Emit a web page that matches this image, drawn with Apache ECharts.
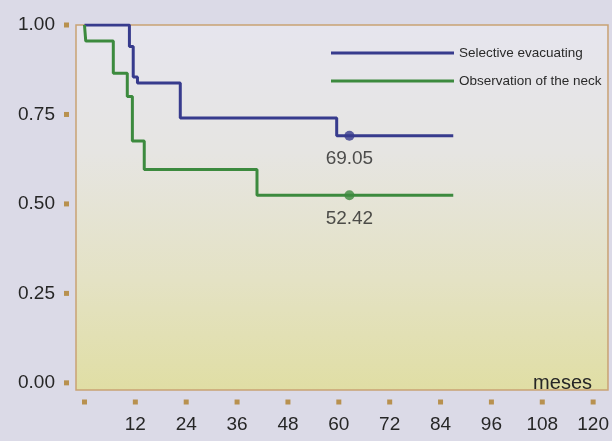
<!DOCTYPE html>
<html>
<head>
<meta charset="utf-8">
<script src="https://cdn.jsdelivr.net/npm/echarts@6/dist/echarts.min.js"></script>
<style>
html,body{margin:0;padding:0;background:#dbdae7;}
#c{width:612px;height:441px;}
</style>
</head>
<body>
<div id="c"></div>
<script>
// ---- data (months, survival proportion) ----
const seriesNames = ['Selective evacuating', 'Observation of the neck'];
const selTimes = [0, 10.6, 11.5, 12.5, 22.6, 59.5, 87];
const selSurv  = [1, 0.94, 0.855, 0.838, 0.74, 0.6905, 0.6905];
const obsTimes = [0, 0.3, 6.8, 10.1, 11.3, 14.1, 40.7, 87];
const obsSurv  = [1, 0.955, 0.865, 0.80, 0.676, 0.596, 0.5242, 0.5242];
const markerTime = 62.5;
const selFinal = 0.6905;
const obsFinal = 0.5242;
const xTicks = [0, 12, 24, 36, 48, 60, 72, 84, 96, 108, 120];
const yTicks = [0, 0.25, 0.5, 0.75, 1];
const xUnit = 'meses';

const BLUE = '#373b8d', GREEN = '#3c8a3e', DOT = '#b8914f';
const FONT = 'Liberation Sans, Arial, sans-serif';
const pair = (t, s) => t.map((v, i) => [v, s[i]]);

const chart = echarts.init(document.getElementById('c'), null, {renderer: 'canvas'});
const valueLabel = {
  show: true, position: 'bottom', distance: 9,
  fontFamily: FONT, fontSize: 19, color: '#262626',
  formatter: p => (p.value[1] * 100).toFixed(2)
};
chart.setOption({
  backgroundColor: '#dbdae7',
  animation: false,
  title: {
    text: xUnit, right: 15, top: 368,
    textStyle: {fontFamily: FONT, fontSize: 20, fontWeight: 'normal', color: '#262626'}
  },
  legend: {
    data: seriesNames, orient: 'vertical', left: 326, top: 41,
    icon: 'rect', itemWidth: 123, itemHeight: 3, itemGap: 14,
    textStyle: {fontFamily: FONT, fontSize: 13.5, color: '#2a2a2a'}
  },
  grid: {
    left: 76, top: 25, right: 3, bottom: 51, show: true,
    borderColor: '#c9a274', borderWidth: 1.5,
    backgroundColor: {
      type: 'linear', x: 0, y: 0, x2: 0, y2: 1,
      colorStops: [
        {offset: 0, color: '#e6e5ee'},
        {offset: 0.35, color: '#e6e5e2'},
        {offset: 0.7, color: '#e4e2c4'},
        {offset: 1, color: '#e0dea4'}
      ]
    }
  },
  xAxis: {
    type: 'value', min: -2, max: 123.5,
    axisLine: {show: false}, axisTick: {show: false}, splitLine: {show: false},
    axisLabel: {
      show: true, customValues: xTicks, margin: 0,
      formatter: v => '{d|}\n{v|' + (v === 0 ? ' ' : v) + '}',
      rich: {
        d: {width: 5, height: 5, backgroundColor: DOT, lineHeight: 24, verticalAlign: 'middle'},
        v: {fontFamily: FONT, fontSize: 19, color: '#262626', lineHeight: 22}
      }
    }
  },
  yAxis: {
    type: 'value', min: -0.02, max: 1,
    axisLine: {show: false}, axisTick: {show: false}, splitLine: {show: false},
    axisLabel: {
      show: true, customValues: yTicks, margin: 7,
      formatter: v => '{v|' + v.toFixed(2) + '}{g|}{d|}',
      rich: {
        v: {fontFamily: FONT, fontSize: 19, color: '#262626', verticalAlign: 'middle'},
        g: {width: 9},
        d: {width: 5, height: 5, backgroundColor: DOT, verticalAlign: 'middle'}
      }
    }
  },
  series: [
    {name: seriesNames[0], type: 'line', step: 'end',
     data: pair(selTimes, selSurv), symbol: 'none', color: BLUE, lineStyle: {width: 3, color: BLUE}},
    {name: seriesNames[1], type: 'line', step: 'end',
     data: pair(obsTimes, obsSurv), symbol: 'none', color: GREEN, lineStyle: {width: 3, color: GREEN}},
    {name: 'selMarker', type: 'scatter', symbolSize: 10,
     data: [[markerTime, selFinal]], itemStyle: {color: BLUE}, label: valueLabel, z: 5},
    {name: 'obsMarker', type: 'scatter', symbolSize: 10,
     data: [[markerTime, obsFinal]], itemStyle: {color: GREEN}, label: valueLabel, z: 5}
  ]
});
</script>
</body>
</html>
